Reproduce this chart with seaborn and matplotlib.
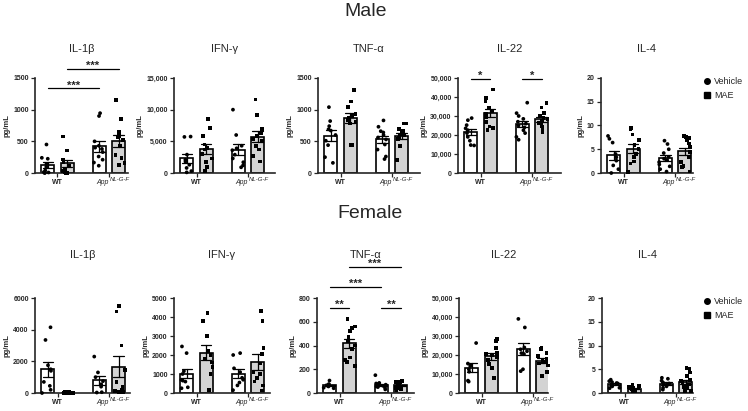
import numpy as np
import pandas as pd
import seaborn as sns
import matplotlib.pyplot as plt
from matplotlib.lines import Line2D
from matplotlib.ticker import FuncFormatter

# values, order: WT-Vehicle, WT-MAE, App-Vehicle, App-MAE
m_il1b = [
    [450, 240, 225, 140, 95, 40, 15, 8, 3, 0],
    [575, 355, 215, 165, 110, 60, 35, 15, 5, 0],
    [945, 900, 500, 430, 400, 380, 330, 260, 210, 165, 115],
    [1150, 850, 650, 580, 560, 520, 430, 290, 240, 160, 130],
]
m_ifng = [
    [5750, 5700, 2900, 2100, 1800, 1300, 800, 300, 100],
    [8500, 7100, 5900, 4500, 4000, 3700, 3000, 2300, 1700, 1000, 300],
    [10000, 6000, 4300, 3900, 3600, 2900, 2300, 1700, 1200, 900],
    [11600, 9200, 6900, 6300, 5900, 5400, 5000, 4300, 3700, 2700, 1800],
]
m_tnfa = [
    [1040, 820, 740, 690, 670, 600, 510, 440, 250, 160],
    [1310, 1130, 1040, 930, 900, 870, 840, 810, 780, 440, 440],
    [830, 730, 660, 640, 600, 560, 530, 450, 370, 260, 220],
    [780, 780, 690, 660, 640, 620, 600, 580, 560, 540, 430, 200],
]
m_il22 = [
    [28900, 27800, 25200, 23500, 22500, 21000, 19000, 17000, 14700, 14500],
    [44000, 39500, 38000, 34500, 32500, 31000, 29500, 27000, 24500, 23500, 22500],
    [37000, 31500, 30000, 28500, 27000, 26000, 25000, 24000, 22500, 21000, 19000, 17500],
    [37000, 34500, 31500, 30000, 29000, 28500, 27500, 26500, 25500, 24500, 22500, 21500],
]
m_il4 = [
    [7.8, 7.2, 6.4, 4.0, 3.3, 2.6, 1.6, 0.8, 0.0],
    [9.4, 9.3, 8.1, 6.9, 5.9, 5.1, 4.0, 3.3, 2.4, 2.0, 0.2],
    [6.8, 6.1, 5.0, 4.2, 3.4, 3.0, 2.7, 2.3, 1.8, 1.4, 0.8, 0.3],
    [7.8, 7.6, 7.3, 7.0, 6.2, 5.5, 4.4, 3.3, 2.3, 1.5, 1.2, 0.3],
]
f_il1b = [
    [4150, 3350, 1750, 1500, 1400, 700, 450, 200, 0],
    [50, 40, 30, 20, 20, 10, 10, 5, 5, 0],
    [2300, 1300, 1000, 750, 550, 400, 50, 30],
    [5500, 5150, 3000, 1450, 700, 400, 200, 150, 80, 50],
]
f_ifng = [
    [2450, 2100, 1150, 1000, 700, 650, 600, 300, 250],
    [4200, 3800, 3000, 2200, 2000, 1800, 1600, 1350, 1000, 150],
    [2100, 2000, 1300, 1100, 800, 700, 550, 400, 150],
    [4300, 3800, 2350, 2050, 1550, 1100, 1000, 800, 600, 400, 130],
]
f_tnfa = [
    [105, 75, 70, 65, 60, 55, 45, 40],
    [625, 560, 545, 525, 470, 440, 400, 370, 300, 280, 260, 230],
    [150, 85, 80, 75, 70, 65, 60, 55, 50, 45, 30],
    [100, 95, 90, 85, 75, 65, 60, 55, 45, 40, 35, 25],
]
f_il22 = [
    [26300, 15500, 14800, 14200, 12500, 11200, 6500, 6000],
    [28300, 27300, 23800, 21000, 20500, 19800, 19000, 17300, 15400, 13000, 8000],
    [39000, 34500, 24000, 23000, 22000, 21000, 20500, 12500, 11500],
    [24000, 23000, 21000, 19500, 18000, 17000, 16500, 16000, 15500, 14500, 11000, 9000],
]
f_il4 = [
    [2.8, 2.5, 2.3, 2.1, 2.0, 1.8, 1.6, 1.4, 1.1, 1.0],
    [1.8, 1.5, 1.3, 1.1, 1.0, 0.8, 0.7, 0.5, 0.4, 0.3],
    [3.2, 3.0, 2.6, 2.2, 2.0, 1.9, 1.7, 1.4, 1.1, 0.7],
    [5.3, 5.0, 4.3, 3.6, 2.8, 2.5, 2.1, 1.8, 1.5, 1.2, 1.0, 0.7, 0.5, 0.3],
]

cytokines = ['IL-1β', 'IFN-γ', 'TNF-α', 'IL-22', 'IL-4']
genotypes = ['WT', 'App']
treatments = ['Vehicle', 'MAE']

male_ymax = [1500, 15000, 1500, 50000, 20]
male_ystep = [500, 5000, 500, 10000, 5]
male_comma = [False, True, False, True, False]
female_ymax = [6000, 5000, 800, 50000, 20]
female_ystep = [2000, 1000, 200, 10000, 5]
female_comma = [False, False, False, True, False]

# significance: (bar a, bar b, stars, height)
male_sigs = [[(0, 2, '***', 1337), (1, 3, '***', 1642)], [], [],
             [(0, 1, '*', 49470), (2, 3, '*', 49470)], []]
female_sigs = [[], [], [(0, 1, '**', 715), (2, 3, '**', 715),
                        (0, 2, '***', 894), (1, 3, '***', 1064)], [], []]

sns.set_style('ticks')
plt.rcParams['font.family'] = ['Liberation Sans', 'DejaVu Sans']

np.random.seed(2)

W, H = 748, 411
bar_colors = {'Vehicle': 'white', 'MAE': '#d3d3d3'}
dot_colors = {'Vehicle': 'black', 'MAE': 'black'}
unit = 51.5   # px between group centres
first = 22.5  # px from y-axis to first group centre
half = 0.185  # bar offset inside group


def make_df(groups):
    rows = []
    for i, vals in enumerate(groups):
        for v in vals:
            rows.append({'genotype': genotypes[i // 2],
                         'treatment': treatments[i % 2], 'value': v})
    return pd.DataFrame(rows)


def draw_panel(ax, groups, title, ymax, ystep, comma, sigs, width_px, pad):
    df = make_df(groups)
    sns.barplot(data=df, x='genotype', y='value', hue='treatment',
                order=genotypes, hue_order=treatments, palette=bar_colors,
                edgecolor='black', linewidth=1.2, width=0.74, gap=0.32,
                errorbar='se', capsize=0.4, saturation=1,
                err_kws={'color': 'black', 'linewidth': 0.9},
                legend=False, ax=ax)
    for t, m in zip(treatments, ['o', 's']):
        sns.stripplot(data=df[df['treatment'] == t], x='genotype', y='value',
                      hue='treatment', order=genotypes, hue_order=treatments,
                      palette=dot_colors, dodge=True, jitter=0.22, marker=m,
                      size=2.7, linewidth=0, legend=False, clip_on=False,
                      zorder=3, ax=ax)

    ax.set_xlim(-first / unit, (width_px - first) / unit)
    ax.set_ylim(0, ymax)
    ax.set_yticks(np.arange(0, ymax + ystep, ystep))
    if comma:
        ax.yaxis.set_major_formatter(FuncFormatter(lambda v, p: f'{int(v):,}'))
    else:
        ax.yaxis.set_major_formatter(FuncFormatter(lambda v, p: f'{v:g}'))
    ax.set_xticks([0, 1])
    ax.set_xticklabels(['WT', 'App'])
    ax.set_xlabel('')
    ax.set_ylabel('pg/mL', fontsize=5.5, fontweight='bold', labelpad=2)
    ax.set_title(title, fontsize=8, pad=pad)
    ax.tick_params(axis='both', length=3, width=0.9, labelsize=5, pad=1.5)
    for lab in ax.get_yticklabels():
        lab.set_fontweight('bold')
    wt_lab, app_lab = ax.get_xticklabels()
    wt_lab.set_fontweight('bold')
    app_lab.set_fontstyle('italic')
    app_lab.set_horizontalalignment('right')
    ax.annotate('NL-G-F', xy=(1, 0), xycoords=('data', 'axes fraction'),
                xytext=(0.3, -2.6), textcoords='offset points', ha='left',
                va='top', fontsize=4.3, fontstyle='italic',
                annotation_clip=False)
    for s in ['left', 'bottom']:
        ax.spines[s].set_linewidth(1.2)
    sns.despine(ax=ax)

    for a, b, stars, y in sigs:
        xa = a // 2 + (-half if a % 2 == 0 else half)
        xb = b // 2 + (-half if b % 2 == 0 else half)
        ax.plot([xa, xb], [y, y], color='black', lw=0.9, clip_on=False)
        ax.annotate(stars, xy=((xa + xb) / 2, y), xytext=(0, -1.5),
                    textcoords='offset points', ha='center', va='bottom',
                    fontsize=8, fontweight='bold', annotation_clip=False)


fig = plt.figure(figsize=(W / 100, H / 100), dpi=100)

male_x = [(35, 128), (174, 275), (318, 420), (458, 561), (601, 693)]
female_x = [(35, 130), (174, 270), (317, 414), (459, 548), (602, 693)]

rows = [
    ([m_il1b, m_ifng, m_tnfa, m_il22, m_il4], male_ymax, male_ystep,
     male_comma, male_sigs, male_x, 78, 173, 18.7),
    ([f_il1b, f_ifng, f_tnfa, f_il22, f_il4], female_ymax, female_ystep,
     female_comma, female_sigs, female_x, 298, 393, 28.8),
]

for data, ymaxs, ysteps, commas, sigs, xs, top, bottom, pad in rows:
    for i in range(5):
        left, right = xs[i]
        ax = fig.add_axes([left / W, 1 - bottom / H, (right - left) / W,
                           (bottom - top) / H])
        draw_panel(ax, data[i], cytokines[i], ymaxs[i], ysteps[i], commas[i],
                   sigs[i], right - left, pad)

fig.text(366 / W, 1 - 11 / H, 'Male', ha='center', va='center', fontsize=14)
fig.text(370 / W, 1 - 213 / H, 'Female', ha='center', va='center', fontsize=14)

handles = [Line2D([], [], marker='o', color='black', linestyle='none', markersize=4),
           Line2D([], [], marker='s', color='black', linestyle='none', markersize=4)]
for top in [77, 297]:
    fig.legend(handles, treatments, loc='upper left',
               bbox_to_anchor=(703 / W, 1 - top / H), frameon=False,
               fontsize=6.5, handlelength=0.8, handletextpad=0.4,
               labelspacing=0.6, borderpad=0, borderaxespad=0)

fig.savefig('out.png', dpi=100)
